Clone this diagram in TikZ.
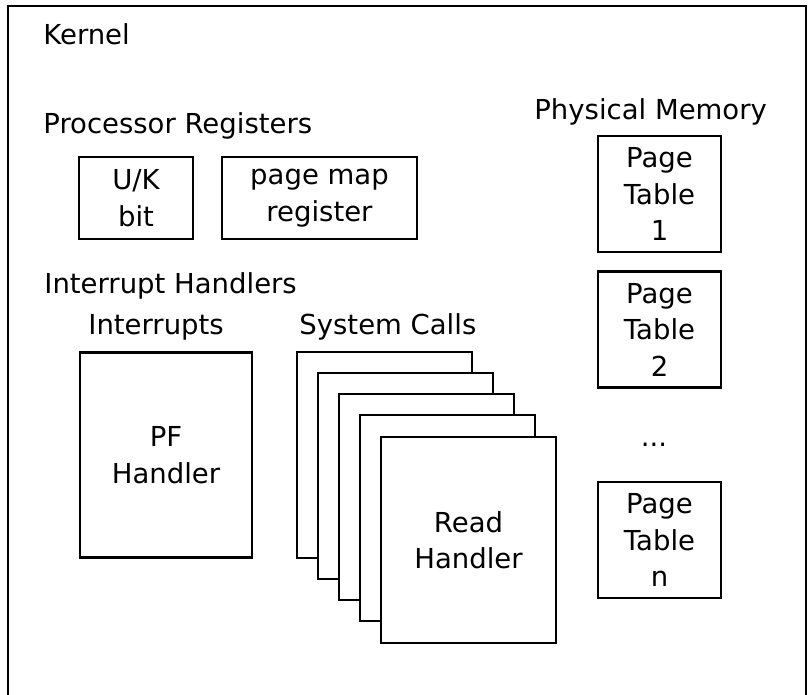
\documentclass[tikz,border=0pt]{standalone}
\usepackage{fontspec}
\setmainfont{DejaVu Sans}
\begin{document}
\begin{tikzpicture}[x=1pt,y=-1pt,
  every node/.style={font=\fontsize{27.5}{36.5}\selectfont, inner sep=0pt},
  box/.style={draw, line width=2.8pt, fill=white, align=center, inner sep=0pt},
  lbl/.style={anchor=base west},
  line width=2.8pt]
\useasboundingbox (0,0) rectangle (808,695);
% frame
\coordinate (fbl) at (8,720);
\coordinate (ftl) at (8,6);
\coordinate (ftr) at (806,6);
\coordinate (fbr) at (806,720);
\draw (fbl) -- (ftl) -- (ftr) -- (fbr);
% labels
\node[lbl] (kernel) at (42,45) {Kernel};
\node[lbl] (procreg) at (42,134) {Processor Registers};
\node[lbl] (physmem) at (533,120) {Physical Memory};
\node[lbl] (inth) at (43,293) {Interrupt Handlers};
\node[lbl] (ints) at (87,334) {Interrupts};
\node[lbl] (syscalls) at (298,334) {System Calls};
% registers
\node[box, minimum width=114pt, minimum height=82pt] (uk) at (136,198) {U/K\\bit};
\node[box, minimum width=195pt, minimum height=82pt] (pmr) at (319.5,198) {page map\\register};
% page tables
\node[box, minimum width=123pt, minimum height=116pt] (pt1) at (659.5,194) {Page\\Table\\1};
\node[box, minimum width=123pt, minimum height=116pt] (pt2) at (659.5,329.5) {Page\\Table\\2};
\node (dots) at (654,445) {...};
\node[box, minimum width=123pt, minimum height=116pt] (ptn) at (659.5,540) {Page\\Table\\n};
% PF handler
\node[box, minimum width=172pt, minimum height=205pt] (pf) at (166,455) {PF\\Handler};
% system call stack
\node[box, minimum width=175pt, minimum height=206pt] (s1) at (384.5,455) {};
\node[box, minimum width=175pt, minimum height=206pt] (s2) at (405.5,476) {};
\node[box, minimum width=175pt, minimum height=206pt] (s3) at (426.5,497) {};
\node[box, minimum width=175pt, minimum height=206pt] (s4) at (447.5,518) {};
\node[box, minimum width=175pt, minimum height=206pt] (s5) at (468.5,540) {Read\\Handler};
\end{tikzpicture}
\end{document}
